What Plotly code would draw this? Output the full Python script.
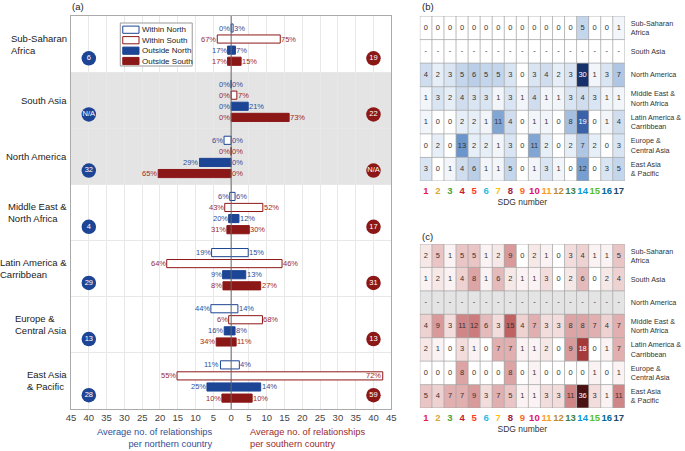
import plotly.graph_objects as go

W, H = 685, 451
FONT = "Liberation Sans, Arial, sans-serif"

# ---------------- data ----------------
regions = ["Sub-Saharan<br>Africa", "South Asia", "North America",
           "Middle East &<br>North Africa", "Latin America &<br>Carribbean",
           "Europe &<br>Central Asia", "East Asia<br>& Pacific"]
series = ["Within North", "Within South", "Outside North", "Outside South"]

# bar extents (avg. no. of relationships): left = per northern country, right = per southern country
within_north_left = [0.0, 0.0, 2.0, 0.4, 5.5, 5.7, 3.0]
within_north_right = [0.55, 0.0, 0.0, 1.1, 4.8, 1.9, 2.3]
within_south_left = [3.9, 0.0, 0.0, 1.8, 18.1, 0.7, 15.2]
within_south_right = [13.8, 1.6, 0.0, 8.9, 14.3, 8.8, 42.6]
outside_north_left = [1.0, 0.0, 8.9, 0.7, 2.4, 1.95, 6.8]
outside_north_right = [1.2, 4.8, 0.0, 2.2, 4.1, 1.1, 8.3]
outside_south_left = [1.0, 0.0, 20.5, 1.2, 2.3, 4.2, 2.6]
outside_south_right = [2.8, 16.3, 0.0, 5.1, 8.3, 1.4, 5.9]

# percentage labels
within_north_left_pct = [0, 0, 6, 6, 19, 44, 11]
within_north_right_pct = [3, 0, 0, 6, 15, 14, 4]
within_south_left_pct = [67, 0, 0, 43, 64, 6, 55]
within_south_right_pct = [75, 7, 0, 52, 46, 68, 72]
outside_north_left_pct = [17, 0, 29, 20, 9, 16, 25]
outside_north_right_pct = [7, 21, 0, 12, 13, 8, 14]
outside_south_left_pct = [17, 0, 65, 31, 8, 34, 10]
outside_south_right_pct = [15, 73, 0, 30, 27, 11, 10]

north_counts = ["6", "N/A", "32", "4", "29", "13", "28"]
south_counts = ["19", "22", "N/A", "17", "31", "13", "59"]

sdg_numbers = list(range(1, 18))
sdg_colors = ["#E5243B", "#DDA63A", "#4C9F38", "#C5192D", "#FF3A21", "#26BDE2",
              "#FCC30B", "#A21942", "#FD6925", "#DD1367", "#FD9D24", "#BF8B2E",
              "#3F7E44", "#0A97D9", "#56C02B", "#00689D", "#19486A"]

north_heat = [
    [0, 0, 0, 0, 0, 0, 0, 0, 0, 0, 0, 0, 0, 5, 0, 0, 1],
    [None] * 17,
    [4, 2, 3, 5, 6, 5, 5, 3, 0, 3, 4, 2, 3, 30, 1, 3, 7],
    [1, 3, 2, 4, 3, 3, 1, 3, 1, 4, 1, 1, 3, 4, 3, 1, 1],
    [1, 0, 0, 2, 2, 1, 11, 4, 0, 1, 1, 0, 8, 19, 0, 1, 4],
    [0, 2, 0, 13, 2, 2, 1, 3, 0, 11, 2, 0, 2, 7, 2, 0, 3],
    [3, 0, 1, 4, 6, 1, 1, 5, 0, 1, 3, 1, 0, 12, 0, 3, 5],
]
south_heat = [
    [2, 5, 1, 5, 5, 1, 2, 9, 0, 2, 1, 0, 3, 4, 1, 1, 5],
    [1, 2, 1, 4, 8, 1, 6, 2, 1, 1, 3, 0, 2, 6, 0, 2, 4],
    [None] * 17,
    [4, 9, 3, 11, 12, 6, 3, 15, 4, 7, 3, 3, 8, 8, 7, 4, 7],
    [2, 1, 0, 3, 1, 0, 7, 7, 1, 1, 2, 0, 9, 18, 0, 1, 7],
    [0, 0, 0, 8, 0, 0, 0, 8, 0, 1, 0, 0, 0, 0, 1, 0, 1],
    [5, 4, 7, 7, 9, 3, 7, 5, 1, 1, 3, 3, 11, 36, 3, 1, 11],
]

# ---------------- styles ----------------
BLUE = "#1d4595"
RED = "#8c1717"
BLUE_T = "#2f4f98"
RED_T = "#9b2b2b"
GRID = "#e8e8e8"
SHADE = "#e4e4e4"


def px(x):
    return x / W


def py(y):
    return 1 - y / H


fig = go.Figure()

# ---------------- panel (a) ----------------
bar_specs = [
    (within_north_left, within_north_right, within_north_left_pct, within_north_right_pct, "white", BLUE, BLUE_T, 0.214),
    (within_south_left, within_south_right, within_south_left_pct, within_south_right_pct, "white", RED, RED_T, 0.410),
    (outside_north_left, outside_north_right, outside_north_left_pct, outside_north_right_pct, BLUE, BLUE, BLUE_T, 0.608),
    (outside_south_left, outside_south_right, outside_south_left_pct, outside_south_right_pct, RED, RED, RED_T, 0.806),
]

annotations = []
for name, (L, R, Lp, Rp, fill, line, tcol, off) in zip(series, bar_specs):
    ys = [g + off for g in range(len(regions))]
    fig.add_trace(go.Bar(
        x=[l + r for l, r in zip(L, R)], base=[-l for l in L], y=ys,
        orientation="h", width=0.145, name=name, showlegend=False,
        marker=dict(color=fill, line=dict(color=line, width=1)),
        hoverinfo="skip", xaxis="x", yaxis="y"))
    for l, r, lp, rp, yv in zip(L, R, Lp, Rp, ys):
        annotations.append(dict(x=-l, y=yv, xref="x", yref="y", text=f"{lp}%",
                                xanchor="right", yanchor="middle", showarrow=False,
                                font=dict(size=7.5, color=tcol, family=FONT), borderpad=0, xshift=0))
        inside = r > 40
        annotations.append(dict(x=r, y=yv, xref="x", yref="y", text=f"{rp}%",
                                xanchor="right" if inside else "left", yanchor="middle",
                                showarrow=False, borderpad=0, xshift=-1 if inside else 0,
                                font=dict(size=7.5, color=tcol, family=FONT)))

circ_y = [g + 0.754 for g in range(len(regions))]
fig.add_trace(go.Scatter(x=[-40] * len(regions), y=circ_y, mode="markers+text",
                         text=north_counts, textposition="middle center",
                         textfont=dict(color="white", size=7.5, family=FONT),
                         marker=dict(size=14.5, color=BLUE), showlegend=False,
                         hoverinfo="skip", xaxis="x", yaxis="y"))
fig.add_trace(go.Scatter(x=[40] * len(regions), y=circ_y, mode="markers+text",
                         text=south_counts, textposition="middle center",
                         textfont=dict(color="white", size=7.5, family=FONT),
                         marker=dict(size=14.5, color=RED), showlegend=False,
                         hoverinfo="skip", xaxis="x", yaxis="y"))

shapes = []
# gray shading for South Asia & North America groups
shapes.append(dict(type="rect", xref="x", yref="y", x0=-45, x1=45, y0=1, y1=3,
                   fillcolor=SHADE, line=dict(width=0), layer="below"))
# zero line above bars
shapes.append(dict(type="line", xref="x", yref="y", x0=0, x1=0, y0=0, y1=7,
                   line=dict(color="#666", width=1), layer="above"))

# group labels
for g, reg in enumerate(regions):
    annotations.append(dict(x=px(65), y=g + 0.5, xref="paper", yref="y", text=reg,
                            xanchor="right", yanchor="middle", align="left", showarrow=False,
                            font=dict(size=9.5, color="#222", family=FONT)))

# custom legend
leg_x0, leg_y0, leg_x1, leg_y1 = 117, 23, 190, 66
shapes.append(dict(type="rect", xref="paper", yref="paper", x0=px(leg_x0), x1=px(leg_x1),
                   y0=py(leg_y1), y1=py(leg_y0), line=dict(color="#999", width=1),
                   fillcolor="white", layer="above"))
leg_rows = [29.7, 40.2, 50.7, 61.0]
for name, (L, R, Lp, Rp, fill, line, tcol, off), yc in zip(series, bar_specs, leg_rows):
    shapes.append(dict(type="rect", xref="paper", yref="paper", x0=px(119.5), x1=px(136),
                       y0=py(yc + 3.6), y1=py(yc - 3.6), fillcolor=fill,
                       line=dict(color=line, width=1), layer="above"))
    annotations.append(dict(x=px(137.5), y=py(yc), xref="paper", yref="paper", text=name,
                            xanchor="left", yanchor="middle", showarrow=False,
                            font=dict(size=8, color="#222", family=FONT)))

# axis titles of panel (a)
annotations.append(dict(x=px(212), y=py(425), xref="paper", yref="paper",
                        text="Average no. of relationships<br>per northern country",
                        xanchor="right", yanchor="top", align="right", showarrow=False,
                        font=dict(size=9.3, color="#2f4f98", family=FONT)))
annotations.append(dict(x=px(247), y=py(425), xref="paper", yref="paper",
                        text="Average no. of relationships<br>per southern country",
                        xanchor="left", yanchor="top", align="left", showarrow=False,
                        font=dict(size=9.3, color="#9b2b2b", family=FONT)))

# panel letters
for txt, x, y in [("(a)", 66, 7), ("(b)", 421, 7), ("(c)", 421, 236)]:
    annotations.append(dict(x=px(x), y=py(y), xref="paper", yref="paper", text=txt,
                            xanchor="left", yanchor="middle", showarrow=False,
                            font=dict(size=9.5, color="#222", family=FONT)))

# ---------------- heatmaps ----------------
blue_scale = [[0, "#ffffff"], [0.1, "#d9e5f3"], [0.267, "#a5bfe0"], [0.433, "#6b96cc"],
              [0.633, "#3a62aa"], [1, "#15306b"]]
red_scale = [[0, "#ffffff"], [0.083, "#f3dcdc"], [0.222, "#dca4a4"], [0.333, "#cc7c7c"],
             [0.417, "#c06262"], [0.5, "#a63a3a"], [1, "#4a1212"]]

rows_idx = list(range(len(regions)))
for z, scale, zmax, xa, ya, dash_row in [(north_heat, blue_scale, 30, "x2", "y2", 1),
                                         (south_heat, red_scale, 36, "x3", "y3", 2)]:
    if ya == "y3":
        shapes.append(dict(type="rect", xref=xa, yref=ya, x0=0.5, x1=17.5,
                           y0=dash_row - 0.5, y1=dash_row + 0.5, fillcolor=SHADE,
                           line=dict(width=0), layer="below"))
    fig.add_trace(go.Heatmap(z=z, x=sdg_numbers, y=rows_idx, colorscale=scale, zmin=0, zmax=zmax,
                             showscale=False, hoverinfo="skip", xaxis=xa, yaxis=ya))
    tx, ty, tt, tc = [], [], [], []
    for r, row in enumerate(z):
        for c, v in enumerate(row):
            tx.append(sdg_numbers[c])
            ty.append(r)
            tt.append("-" if v is None else str(v))
            tc.append("white" if (v is not None and v >= 18) else "#333")
    fig.add_trace(go.Scatter(x=tx, y=ty, text=tt, mode="text", textposition="middle center",
                             textfont=dict(size=7.5, color=tc, family=FONT), showlegend=False,
                             hoverinfo="skip", xaxis=xa, yaxis=ya))
    for k in range(18):
        shapes.append(dict(type="line", xref=xa, yref=ya, x0=0.5 + k, x1=0.5 + k, y0=-0.5, y1=6.5,
                           line=dict(color="#a8a8a8", width=0.8), layer="above"))
    for k in range(8):
        shapes.append(dict(type="line", xref=xa, yref=ya, x0=0.5, x1=17.5, y0=-0.5 + k, y1=-0.5 + k,
                           line=dict(color="#a8a8a8", width=0.8), layer="above"))

sdg_ticktext = [f"<span style='color:{c}'><b>{n}</b></span>" for n, c in zip(sdg_numbers, sdg_colors)]

xa_hm = dict(range=[0.5, 17.5], tickvals=sdg_numbers, ticktext=sdg_ticktext, showgrid=False,
             zeroline=False, ticks="", tickangle=0, tickfont=dict(size=9.5, family=FONT),
             ticklabelstandoff=2,
             title=dict(text="SDG number", font=dict(size=8.5, color="#333", family=FONT), standoff=4),
             domain=[px(421), px(629)], fixedrange=True)
ya_hm = dict(range=[6.5, -0.5], tickvals=rows_idx, ticktext=regions, side="right",
             showgrid=False, zeroline=False, ticks="", ticklabelstandoff=5,
             tickfont=dict(size=7.2, color="#333", family=FONT), fixedrange=True)

fig.update_layout(
    width=W, height=H,
    margin=dict(l=0, r=0, t=0, b=0),
    paper_bgcolor="white", plot_bgcolor="white",
    font=dict(family=FONT),
    barmode="overlay",
    showlegend=False,
    xaxis=dict(domain=[px(67), px(392)], range=[-45, 45], tickvals=list(range(-45, 46, 5)),
               ticktext=[str(abs(v)) for v in range(-45, 46, 5)], showgrid=True, gridcolor=GRID,
               zeroline=False, showline=True, mirror=True, linecolor="#aaa", linewidth=1,
               ticks="", tickfont=dict(size=9.5, color="#444", family=FONT), anchor="y"),
    yaxis=dict(domain=[py(409), py(16)], range=[7, 0], tickvals=list(range(8)), showgrid=True,
               gridcolor=GRID, showticklabels=False, zeroline=False, showline=True, mirror=True,
               linecolor="#aaa", linewidth=1, ticks="", anchor="x"),
    xaxis2=dict(xa_hm, anchor="y2"),
    yaxis2=dict(ya_hm, domain=[py(181), py(16)], anchor="x2"),
    xaxis3=dict(xa_hm, anchor="y3"),
    yaxis3=dict(ya_hm, domain=[py(408), py(244)], anchor="x3"),
    shapes=shapes,
    annotations=annotations,
)

fig.write_html("out.html", config={"displayModeBar": False},
               post_script="document.body.style.margin='0';document.body.style.padding='0';")
